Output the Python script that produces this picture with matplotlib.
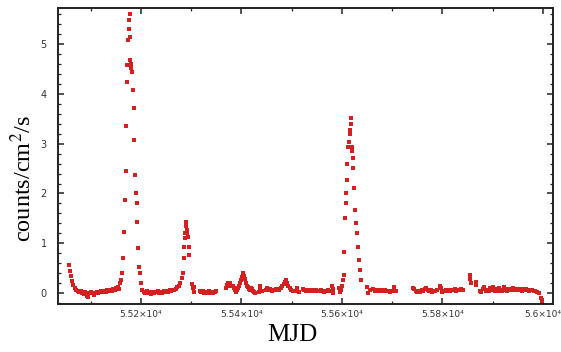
import numpy as np
import matplotlib
matplotlib.use("Agg")
import matplotlib.pyplot as plt
from matplotlib.ticker import FixedLocator, MultipleLocator

plt.rcParams["mathtext.fontset"] = "stix"

# light curve (MJD, counts/cm^2/s)
seg1_mjd = [55057, 55059, 55061, 55063, 55065, 55068, 55071, 55074, 55077, 55080,
            55083, 55086, 55089, 55092, 55094, 55097, 55100, 55103, 55106, 55109,
            55112, 55115, 55118, 55121, 55124, 55127, 55130, 55133, 55136, 55139,
            55142, 55145, 55148, 55151, 55154, 55156, 55158, 55160, 55162, 55165,
            55167, 55169, 55170, 55171, 55172, 55173, 55175, 55176, 55177, 55178,
            55178.5, 55179, 55180, 55181, 55183, 55185, 55186, 55187, 55189, 55191,
            55192, 55193, 55195, 55197, 55198, 55200, 55203]
seg1_rate = [0.56, 0.45, 0.35, 0.24, 0.16, 0.10, 0.06, 0.04, 0.02, 0.05,
             0.01, -0.02, 0.03, -0.05, -0.07, 0.00, 0.02, 0.00, -0.03, 0.01,
             0.03, 0.00, 0.02, 0.04, 0.02, 0.05, 0.03, 0.06, 0.04, 0.07,
             0.05, 0.09, 0.07, 0.10, 0.12, 0.08, 0.20, 0.26, 0.40, 0.70,
             1.22, 1.87, 2.45, 3.35, 4.24, 4.58, 5.08, 5.30, 5.48, 5.60,
             5.14, 4.68, 4.60, 4.52, 4.44, 4.08, 3.71, 3.07, 2.37, 2.01,
             1.80, 1.43, 0.90, 0.53, 0.40, 0.20, 0.06]

seg2_mjd = [55206, 55209, 55212, 55215, 55218, 55221, 55224, 55227, 55230, 55233,
            55236, 55239, 55242, 55245, 55248, 55251, 55254, 55257, 55260, 55263,
            55266, 55269, 55272, 55275, 55278, 55281, 55283, 55285, 55286, 55287,
            55288, 55289, 55290, 55291, 55292, 55293, 55295, 55296]
seg2_rate = [0.03, 0.01, 0.04, 0.00, 0.02, -0.01, 0.03, 0.00, 0.02, 0.04,
             0.01, 0.03, 0.00, 0.04, 0.02, 0.05, 0.03, 0.06, 0.04, 0.07,
             0.06, 0.09, 0.12, 0.15, 0.20, 0.30, 0.40, 0.70, 0.92, 1.10,
             1.20, 1.35, 1.43, 1.27, 1.20, 1.13, 0.92, 0.76]

seg3_mjd = [55302, 55303, 55305, 55306,
            55317, 55320, 55323, 55326, 55329, 55332, 55335, 55338, 55341, 55344,
            55347, 55350]
seg3_rate = [0.18, 0.10, 0.02, 0.12,
             0.05, 0.02, 0.04, 0.00, 0.03, 0.01, 0.04, 0.00, 0.02, 0.00,
             0.03, 0.05]

seg4_mjd = [55369, 55371, 55373, 55375, 55377, 55378,
            55384, 55386, 55388, 55390, 55392, 55394, 55396, 55398, 55400, 55402,
            55404, 55406, 55408, 55410, 55412, 55414, 55416, 55418, 55420, 55422,
            55424, 55426, 55428, 55435, 55437, 55437.5, 55441]
seg4_rate = [0.10, 0.17, 0.20, 0.15, 0.20, 0.17,
             0.15, 0.10, 0.06, 0.03, 0.06, 0.10, 0.15, 0.20, 0.26, 0.33,
             0.40, 0.35, 0.28, 0.20, 0.15, 0.12, 0.08, 0.06, 0.10, 0.08,
             0.04, 0.02, 0.00, 0.02, 0.10, 0.15, 0.05]

seg5_mjd = [55448, 55451, 55454, 55457, 55460, 55463, 55466, 55469, 55472, 55475,
            55478, 55481, 55484, 55487, 55489, 55491, 55493, 55496, 55499, 55502,
            55509, 55510, 55515]
seg5_rate = [0.06, 0.10, 0.07, 0.08, 0.05, 0.07, 0.06, 0.08, 0.09, 0.07,
             0.10, 0.14, 0.18, 0.22, 0.26, 0.20, 0.14, 0.10, 0.06, 0.05,
             0.05, 0.10, 0.02]

seg6_mjd = [55522, 55525, 55528, 55531, 55534, 55537, 55540, 55543, 55546, 55549,
            55552, 55555, 55558, 55561, 55564, 55567, 55570, 55573, 55575,
            55581, 55582, 55583, 55594, 55596, 55598, 55600]
seg6_rate = [0.08, 0.06, 0.05, 0.07, 0.05, 0.06, 0.04, 0.06, 0.05, 0.07,
             0.05, 0.04, 0.06, 0.05, 0.03, 0.05, 0.04, 0.06, 0.04,
             0.15, 0.08, 0.00, 0.10, 0.02, 0.06, 0.15]

seg7_mjd = [55603, 55604, 55605, 55607, 55608, 55609, 55610, 55611, 55612, 55614,
            55616, 55617, 55618, 55619, 55620, 55621, 55622, 55623, 55625, 55627,
            55628, 55630, 55632, 55634, 55635, 55637]
seg7_rate = [0.26, 0.36, 0.83, 1.50, 1.80, 2.00, 2.27, 2.60, 2.94, 3.04,
             3.20, 3.27, 3.40, 3.51, 2.94, 2.85, 2.71, 2.51, 2.11, 1.67,
             1.40, 1.20, 0.92, 0.66, 0.46, 0.26]

seg8_mjd = [55650, 55652, 55655,
            55662, 55665, 55668, 55671, 55674, 55677, 55680, 55683, 55686, 55689,
            55692, 55695, 55698, 55701, 55704, 55707]
seg8_rate = [0.12, 0.00, 0.06,
             0.08, 0.05, 0.07, 0.05, 0.06, 0.04, 0.06, 0.05, 0.06, 0.04,
             0.05, 0.03, 0.05, 0.04, 0.12, 0.04]

seg9_mjd = [55741, 55744, 55747, 55750, 55753, 55756, 55759, 55762, 55765, 55768,
            55771, 55774, 55777, 55780, 55783, 55786, 55789,
            55795, 55797, 55799]
seg9_rate = [0.10, 0.08, 0.05, 0.03, 0.05, 0.02, 0.06, 0.05, 0.08, 0.10,
             0.07, 0.04, 0.06, 0.03, 0.05, 0.04, 0.06,
             0.15, 0.10, 0.02]

seg10_mjd = [55804, 55807, 55810, 55813, 55816, 55819, 55822, 55825, 55828, 55831,
             55834, 55837, 55840, 55854, 55855, 55856, 55866, 55867]
seg10_rate = [0.05, 0.07, 0.04, 0.06, 0.05, 0.07, 0.06, 0.08, 0.05, 0.07,
              0.06, 0.08, 0.07, 0.36, 0.28, 0.20, 0.23, 0.17]

seg11_mjd = [55874, 55877, 55880, 55883, 55886, 55889, 55892, 55895, 55898, 55901,
             55904, 55907, 55910, 55913, 55916, 55919, 55922, 55925, 55928, 55931,
             55934, 55937, 55940, 55943, 55946, 55949, 55952, 55955, 55958, 55961,
             55964, 55967, 55970, 55973, 55976, 55979, 55982, 55985, 55988, 55993,
             55996, 55999]
seg11_rate = [0.05, 0.02, 0.08, 0.12, 0.05, 0.07, 0.04, 0.10, 0.06, 0.12,
              0.05, 0.08, 0.04, 0.10, 0.06, 0.04, 0.13, 0.07, 0.05, 0.09,
              0.06, 0.08, 0.10, 0.07, 0.09, 0.06, 0.08, 0.07, 0.05, 0.09,
              0.06, 0.08, 0.07, 0.05, 0.07, 0.06, 0.05, 0.04, 0.02, 0.00,
              -0.10, -0.18]

segments = [(seg1_mjd, seg1_rate), (seg2_mjd, seg2_rate), (seg3_mjd, seg3_rate),
            (seg4_mjd, seg4_rate), (seg5_mjd, seg5_rate), (seg6_mjd, seg6_rate),
            (seg7_mjd, seg7_rate), (seg8_mjd, seg8_rate), (seg9_mjd, seg9_rate),
            (seg10_mjd, seg10_rate), (seg11_mjd, seg11_rate)]

xticks = [55200, 55400, 55600, 55800, 56000]
xtick_labels = ["5.52\u00d710\u2074", "5.54\u00d710\u2074", "5.56\u00d710\u2074",
                "5.58\u00d710\u2074", "5.6\u00d710\u2074"]

red = "#d42020"

fig = plt.figure(figsize=(5.61, 3.52), dpi=100)
ax = fig.add_axes([0.1034, 0.136, 0.8823, 0.841])

for mjd, rate in segments:
    ax.plot(mjd, rate, ls="none", marker="s", ms=2.3, mew=0, color=red)

ax.set_xlim(55035, 56020)
ax.set_ylim(-0.22, 5.72)

ax.xaxis.set_major_locator(FixedLocator(xticks))
ax.set_xticklabels(xtick_labels, fontsize=6.5, family="DejaVu Sans", color="#333333")
ax.xaxis.set_minor_locator(MultipleLocator(100))
ax.yaxis.set_major_locator(MultipleLocator(1))
ax.yaxis.set_minor_locator(MultipleLocator(0.2))
for lbl in ax.get_yticklabels():
    lbl.set_fontsize(7)
    lbl.set_color("#333333")

ax.tick_params(which="both", direction="in", top=True, right=True, color="#222222")
ax.tick_params(which="major", length=4, width=1.1)
ax.tick_params(which="minor", length=2.5, width=0.9)
ax.tick_params(axis="y", pad=8)
ax.tick_params(axis="x", pad=4)
for sp in ax.spines.values():
    sp.set_linewidth(1.4)
    sp.set_color("#222222")

ax.set_ylabel("counts/cm$^{2}$/s", fontsize=17.5, family="Liberation Serif")
ax.yaxis.set_label_coords(-0.045, 0.425)
ax.set_xlabel("MJD", fontsize=18, family="Liberation Serif")
ax.xaxis.set_label_coords(0.474, -0.068)

fig.savefig("out.png", dpi=100)
